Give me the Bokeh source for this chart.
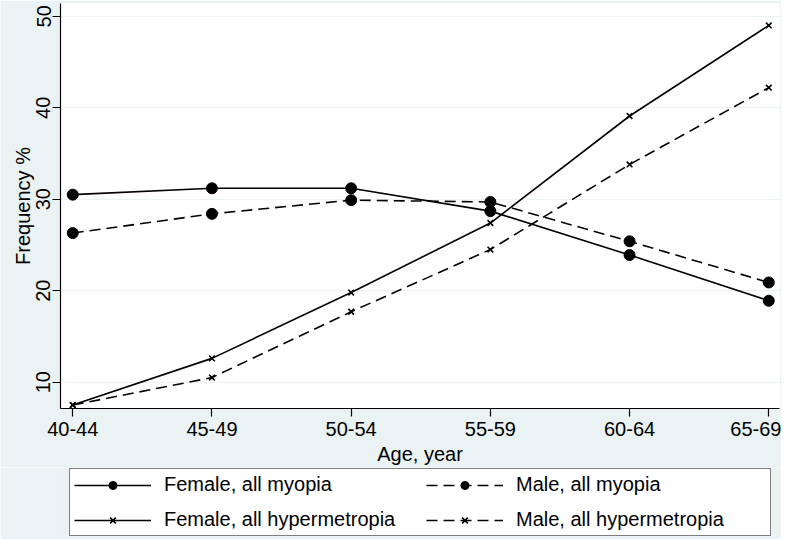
import numpy as np
from bokeh.plotting import figure
from bokeh.layouts import column
from bokeh.models import Range1d, FixedTicker, Legend, LegendItem
from bokeh.embed import file_html
from bokeh.resources import INLINE

age_groups = ["40-44", "45-49", "50-54", "55-59", "60-64", "65-69"]
female_myopia = [30.5, 31.2, 31.2, 28.7, 23.9, 18.9]
male_myopia = [26.3, 28.4, 29.9, 29.7, 25.4, 20.9]
female_hyper = [7.5, 12.6, 19.8, 27.4, 39.1, 49.0]
male_hyper = [7.5, 10.5, 17.7, 24.5, 33.8, 42.2]
y_ticks = [10, 20, 30, 40, 50]
series_labels = ["Female, all myopia", "Male, all myopia",
                 "Female, all hypermetropia", "Male, all hypermetropia"]

FONT = "Liberation Sans"
BG = "#eaf2f3"
DASH = "11 6"
LW = 1.6
x = list(range(len(age_groups)))

series = [
    (female_myopia, "circle", "solid"),
    (male_myopia, "circle", DASH),
    (female_hyper, "x", "solid"),
    (male_hyper, "x", DASH),
]


def draw_series(fig, circle_size, x_size):
    out = []
    for ys, marker, dash in series:
        ln = fig.line(x, ys, line_color="black", line_width=LW, line_dash=dash)
        if marker == "circle":
            sc = fig.scatter(x, ys, marker="circle", size=circle_size, color="black")
        else:
            sc = fig.scatter(x, ys, marker="x", size=x_size, line_color="black", line_width=1.6)
        out.append([ln, sc])
    return out


# ---------------- main plot ----------------
p = figure(frame_width=719, frame_height=405, output_backend="svg", toolbar_location=None,
           x_range=Range1d(-0.088, 5.077), y_range=Range1d(7.12, 51.4),
           min_border_left=60, min_border_right=2, min_border_top=3, min_border_bottom=0)
p.border_fill_color = BG
p.background_fill_color = "white"
p.outline_line_color = None
p.xgrid.grid_line_color = None
p.ygrid.grid_line_color = BG
p.ygrid.grid_line_width = 1.2

p.xaxis.ticker = FixedTicker(ticks=x)
p.xaxis.major_label_overrides = {i: lab for i, lab in enumerate(age_groups)}
p.yaxis.ticker = FixedTicker(ticks=y_ticks)
for ax in (p.xaxis, p.yaxis):
    ax.axis_line_color = "black"
    ax.axis_line_width = 1.2
    ax.major_tick_line_color = "black"
    ax.major_tick_line_width = 1.2
    ax.major_tick_out = 8
    ax.major_tick_in = 0
    ax.minor_tick_line_color = None
    ax.major_label_text_font = FONT
    ax.major_label_text_font_size = "20px"
    ax.major_label_text_color = "black"
    ax.axis_label_text_font = FONT
    ax.axis_label_text_font_size = "20px"
    ax.axis_label_text_font_style = "normal"
    ax.axis_label_text_color = "black"

p.xaxis.axis_label = "Age, year"
p.xaxis.major_label_standoff = 5
p.xaxis.axis_label_standoff = 4
p.yaxis.axis_label = "Frequency %"
p.yaxis.major_label_orientation = "vertical"
p.yaxis.major_label_standoff = 2
p.yaxis.axis_label_standoff = 0

draw_series(p, 11, 8)

# ---------------- legend strip ----------------
lg = figure(width=781, height=72, output_backend="svg", toolbar_location=None,
            x_range=Range1d(100, 101), y_range=Range1d(100, 101),
            x_axis_location=None, y_axis_location=None,
            min_border_left=0, min_border_right=0, min_border_top=0, min_border_bottom=0)
lg.border_fill_color = BG
lg.background_fill_color = BG
lg.outline_line_color = None
lg.grid.grid_line_color = None
rends = draw_series(lg, 8, 6)

legend = Legend(items=[LegendItem(label=lab, renderers=r) for lab, r in zip(series_labels, rends)],
                orientation="horizontal", ncols=2)
legend.label_text_font = FONT
legend.label_text_font_size = "20px"
legend.label_text_color = "black"
legend.glyph_width = 77
legend.glyph_height = 20
legend.label_standoff = 13
legend.label_width = 250
legend.spacing = 12
legend.padding = 4
legend.margin = 0
legend.border_line_color = "black"
legend.border_line_width = 1.2
legend.background_fill_color = "white"
legend.background_fill_alpha = 1.0
legend.location = (9, 3)
lg.add_layout(legend, "center")

layout = column(p, lg, spacing=0)
open("out.html", "w").write(file_html(layout, INLINE))
